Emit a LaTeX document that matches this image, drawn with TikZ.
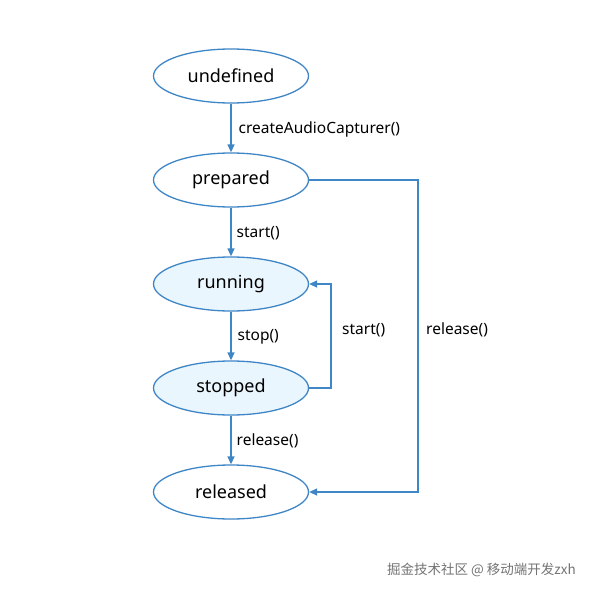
\documentclass[tikz,border=0pt]{standalone}
\usepackage{fontspec}
\setmainfont{Noto Sans}
\newfontfamily\cjk{Noto Sans CJK SC}
\usetikzlibrary{shapes.geometric,arrows.meta}
\definecolor{statecolor}{HTML}{3F86C6}
\definecolor{statefill}{HTML}{EAF6FD}
\newcommand{\linethick}{1.3pt}
\tikzset{
  state/.style={draw=statecolor, line width=\linethick, ellipse, fill=white,
    minimum width=155pt, minimum height=54pt, inner sep=0pt, font=\fontsize{18}{21}\selectfont},
  active/.style={state, fill=statefill},
  trans/.style={draw=statecolor, line width=\linethick, -{Triangle[length=8pt,width=7pt]}},
  lbl/.style={font=\fontsize{15.5}{18}\selectfont, anchor=west, inner sep=0pt}
}

\begin{document}
\begin{tikzpicture}[x=1pt,y=-1pt]
\useasboundingbox (0,0) rectangle (591,594);
\node[state] (undefined) at (231, 76) {undefined};
\node[state] (prepared) at (231, 180) {prepared};
\node[active] (running) at (231, 284) {running};
\node[active] (stopped) at (231, 388) {stopped};
\node[state] (released) at (231, 492) {released};
%down the chain
\draw[trans] (undefined) -- (prepared) node[lbl, midway, xshift=7pt, yshift=-1pt] {createAudioCapturer()};
\draw[trans] (prepared) -- (running) node[lbl, midway, xshift=5pt, yshift=-1pt] {start()};
\draw[trans] (running) -- (stopped) node[lbl, midway, xshift=6pt, yshift=-1pt] {stop()};
\draw[trans] (stopped) -- (released) node[lbl, midway, xshift=5pt, yshift=-1pt] {release()};
%loops at the side
\coordinate (loopa) at (331, 388);
\coordinate (loopb) at (331, 284);
\draw[trans] (stopped.east) -- (loopa) -- (loopb) -- (running.east);
\node[lbl] (restart) at (342, 330) {start()};
\coordinate (loopc) at (418, 180);
\coordinate (loopd) at (418, 492);
\draw[trans] (prepared.east) -- (loopc) -- (loopd) -- (released.east);
\node[lbl] (release) at (426, 330) {release()};
%watermark
\node[anchor=east, inner sep=0pt, text=black!55, font=\cjk\fontsize{13.5}{16}\selectfont] (mark) at (576, 570) {掘金技术社区 @ 移动端开发zxh};
\end{tikzpicture}
\end{document}
